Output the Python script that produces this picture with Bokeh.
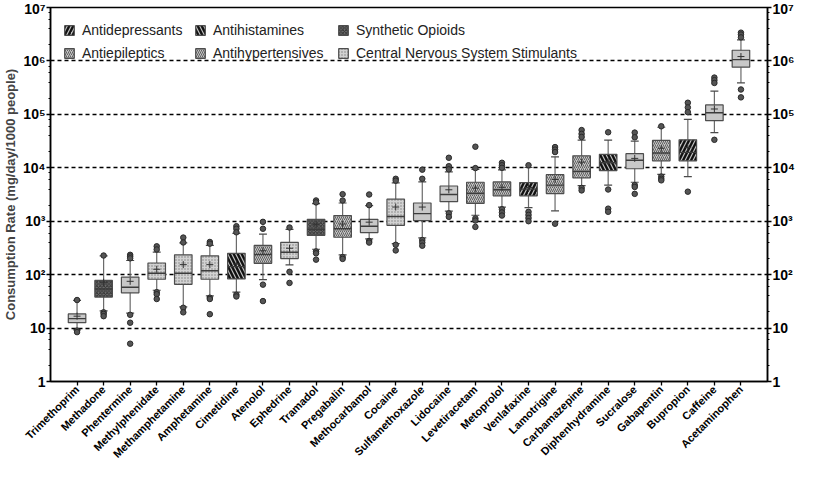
import math
from bokeh.plotting import figure
from bokeh.models import (ColumnDataSource, FactorRange, Range1d, LogAxis, FixedTicker,
                          Legend, LegendItem)
from bokeh.embed import file_html
from bokeh.resources import INLINE

drugs = ["Trimethoprim", "Methadone", "Phentermine", "Methylphenidate", "Methamphetamine",
         "Amphetamine", "Cimetidine", "Atenolol", "Ephedrine", "Tramadol", "Pregabalin",
         "Methocarbamol", "Cocaine", "Sulfamethoxazole", "Lidocaine", "Levetiracetam",
         "Metoprolol", "Venlafaxine", "Lamotrigine", "Carbamazepine", "Diphenhydramine",
         "Sucralose", "Gabapentin", "Bupropion", "Caffeine", "Acetaminophen"]

drug_class = ["None", "Synthetic Opioids", "None", "Central Nervous System Stimulants",
              "Central Nervous System Stimulants", "Central Nervous System Stimulants",
              "Antihistamines", "Antihypertensives", "Central Nervous System Stimulants",
              "Synthetic Opioids", "Antiepileptics", "None", "Central Nervous System Stimulants",
              "None", "None", "Antiepileptics", "Antihypertensives", "Antidepressants",
              "Antiepileptics", "Antiepileptics", "Antihistamines", "None", "Antiepileptics",
              "Antidepressants", "None", "None"]

q1 = [12.6, 38, 45.6, 82, 66, 82, 83, 163, 200, 544, 501, 614, 839, 1028, 2317, 2163,
      2992, 2992, 3296, 6490, 8850, 9600, 13470, 13470, 76300, 763000]
median = [15.0, 54, 58, 106, 106, 118, 141, 238, 262, 703, 723, 805, 1225, 1384, 3162, 3340,
          3875, 3981, 4743, 8500, 12400, 13840, 18880, 19400, 107000, 1056000]
q3 = [18.4, 78, 90, 165, 235, 225, 251, 352, 403, 1084, 1276, 1084, 2582, 2193, 4560, 5360,
      5434, 5290, 7430, 16740, 17900, 18400, 32500, 33400, 150000, 1585000]
mean = [16.7, 72, 75, 126, 154, 154, 158, 280, 312, 873, 885, 960, 1841, 1841, 3875, 4146,
        4315, 4266, 6050, 12760, 13200, 15000, 23170, 24100, 126000, 1208000]
whisker_low = [9.3, 21, 19, 51, 25, 40, 47, 81, 152, 299, 235, 469, 382, 488, 1542, 1294,
               1841, 1791, 1563, 4620, 4740, 5360, 7520, 6840, 45600, 387000]
whisker_high = [33, 225, 184, 265, 393, 352, 590, 574, 703, 2135, 2193, 1966, 5224, 5434,
                8395, 9350, 9100, 10130, 16070, 32960, 32960, 31600, 57400, 80500, 272600,
                2477000]
outliers = [
    [33.5, 9.0, 8.4],
    [228, 19.7, 18.4, 16.7],
    [235, 219, 202, 17.7, 12.6, 5.1],
    [339, 296, 47, 43, 35],
    [494, 400, 24, 19.7],
    [409, 380, 37, 35, 18.2],
    [805, 723, 620, 42, 39],
    [973, 723, 65, 32],
    [763, 113, 70],
    [2443, 2250, 272, 251, 191],
    [3206, 2443, 213, 197],
    [3162, 2000, 426, 398],
    [6223, 5741, 362, 284],
    [9220, 6223, 444, 398, 348],
    [15400, 10700, 9350, 1403, 1208],
    [24800, 9860, 1130, 1028, 783],
    [12400, 11150, 10000, 1675, 1462, 1276],
    [11150, 1500, 1312, 1146, 1000],
    [24400, 21900, 19700, 897],
    [50800, 43150, 37700, 4200, 3770],
    [46200, 3925, 1718, 1500],
    [45600, 37200, 4740, 4375, 3250],
    [59800, 6840, 6220, 5820],
    [165000, 134700, 110000, 3570],
    [488000, 437000, 387000, 33400],
    [3380000, 3120000, 2760000, 292000, 208000],
]

# legend columns (top row, bottom row)
legend_columns = [["Antidepressants", "Antiepileptics"],
                  ["Antihistamines", "Antihypertensives"],
                  ["Synthetic Opioids", "Central Nervous System Stimulants"]]

y_ticks = [1, 10, 100, 1000, 10000, 100000, 1000000, 10000000]
y_tick_labels = ["1", "10", "10\u00b2", "10\u00b3", "10\u2074", "10\u2075", "10\u2076", "10\u2077"]
y_grid_values = [10, 100, 1000, 10000, 100000, 1000000]

FONT = "Liberation Sans"

styles = {
    "None": dict(fill_color="#c8c8c8"),
    "Antidepressants": dict(fill_color="#c0c0c0", hatch_pattern="/", hatch_color="#111111",
                            hatch_weight=2.4, hatch_scale=8),
    "Antihistamines": dict(fill_color="#c0c0c0", hatch_pattern="\\", hatch_color="#111111",
                           hatch_weight=2.4, hatch_scale=8),
    "Synthetic Opioids": dict(fill_color="#707070", hatch_pattern="x", hatch_color="#333333",
                              hatch_weight=1, hatch_scale=3.5),
    "Antiepileptics": dict(fill_color="#c6c6c6", hatch_pattern="/", hatch_color="#555555",
                           hatch_weight=0.9, hatch_scale=4),
    "Antihypertensives": dict(fill_color="#c6c6c6", hatch_pattern="\\", hatch_color="#555555",
                              hatch_weight=0.9, hatch_scale=4),
    "Central Nervous System Stimulants": dict(fill_color="#d2d2d2", hatch_pattern=".",
                                              hatch_color="#808080", hatch_weight=1,
                                              hatch_scale=3),
}

FRAME_H = 366  # frame height that results from the layout, used to place legend columns

p = figure(width=797, height=467,
           x_range=FactorRange(factors=drugs, range_padding=0.5, range_padding_units="absolute"),
           y_range=Range1d(1, 1e7), y_axis_type="log",
           output_backend="svg", toolbar_location=None,
           min_border_left=42, min_border_right=0, min_border_top=7, min_border_bottom=0)

p.background_fill_color = "white"
p.border_fill_color = "white"
p.outline_line_color = "black"
p.outline_line_width = 1.5

p.xgrid.visible = False
p.ygrid.ticker = FixedTicker(ticks=y_grid_values)
p.ygrid.grid_line_color = "black"
p.ygrid.grid_line_dash = "4 3"
p.ygrid.grid_line_width = 1.3

# whiskers and caps
p.segment(x0=drugs, y0=whisker_low, x1=drugs, y1=whisker_high,
          line_color="#6a6a6a", line_width=1.2)
p.vbar(x=drugs, top=whisker_high, bottom=whisker_high, width=0.3,
       line_color="#4a4a4a", line_width=1.2, fill_alpha=0)
p.vbar(x=drugs, top=whisker_low, bottom=whisker_low, width=0.3,
       line_color="#4a4a4a", line_width=1.2, fill_alpha=0)

# boxes per class
class_renderers = {}
for cls in styles:
    idx = [i for i, c in enumerate(drug_class) if c == cls]
    src = ColumnDataSource(dict(x=[drugs[i] for i in idx], q1=[q1[i] for i in idx],
                                q3=[q3[i] for i in idx]))
    r = p.vbar(x="x", top="q3", bottom="q1", width=0.66, source=src,
               line_color="#4d4d4d", line_width=1.2, **styles[cls])
    class_renderers[cls] = r

p.vbar(x=drugs, top=median, bottom=median, width=0.66, line_color="#3c3c3c",
       line_width=1.4, fill_alpha=0)
p.scatter(x=drugs, y=mean, marker="cross", size=7, line_color="#333333", line_width=1)
ox, oy = [], []
for d, vals in zip(drugs, outliers):
    for v in vals:
        ox.append(d)
        oy.append(v)
p.scatter(x=ox, y=oy, marker="circle", size=5.5, fill_color="#555555",
          line_color="#2a2a2a", line_width=1)

# axes
minor = [m * 10 ** k for k in range(0, 7) for m in (2, 4, 6, 8)]
overrides = {float(t): s for t, s in zip(y_ticks, y_tick_labels)}


def style_y(ax):
    ax.ticker = FixedTicker(ticks=y_ticks, minor_ticks=minor)
    ax.major_label_overrides = overrides
    ax.major_label_text_font = FONT
    ax.major_label_text_font_style = "bold"
    ax.major_label_text_font_size = "14px"
    ax.major_label_text_color = "black"
    ax.major_label_standoff = 1
    ax.axis_line_color = "black"
    ax.axis_line_width = 1.5
    ax.major_tick_out = 4
    ax.major_tick_in = 0
    ax.minor_tick_out = 2
    ax.minor_tick_in = 0
    ax.major_tick_line_width = 1.3
    ax.major_tick_line_color = "black"
    ax.minor_tick_line_color = "black"


yax = p.yaxis[0]
style_y(yax)
yax.axis_label = "Consumption Rate (mg/day/1000 people)"
yax.axis_label_text_font = FONT
yax.axis_label_text_font_style = "bold"
yax.axis_label_text_font_size = "13px"
yax.axis_label_standoff = 2

rax = LogAxis(axis_label=None)
style_y(rax)
p.add_layout(rax, "right")

xax = p.xaxis[0]
xax.axis_label = None
xax.major_label_orientation = math.pi / 4
xax.major_label_text_font = FONT
xax.major_label_text_font_style = "bold"
xax.major_label_text_font_size = "11px"
xax.major_label_text_color = "black"
xax.major_label_standoff = 2
xax.axis_line_color = "black"
xax.axis_line_width = 1.5
xax.major_tick_out = 4
xax.major_tick_in = 0
xax.major_tick_line_color = "black"
xax.major_tick_line_width = 1.3

# legends: three columns of two rows, placed from frame's bottom-left in pixels
col_x = [13, 144, 287]
LEG_H = 39
for cols, x in zip(legend_columns, col_x):
    items = [LegendItem(label=c, renderers=[class_renderers[c]]) for c in cols]
    leg = Legend(items=items, location=(x, FRAME_H - 7 - LEG_H), orientation="vertical",
                 margin=0, padding=0, spacing=7,
                 glyph_width=12, glyph_height=12, label_height=16, label_standoff=7,
                 label_text_font=FONT, label_text_font_size="14px", label_text_color="#222222",
                 border_line_color=None, background_fill_alpha=0)
    p.add_layout(leg)

open("out.html", "w").write(file_html(p, INLINE))
